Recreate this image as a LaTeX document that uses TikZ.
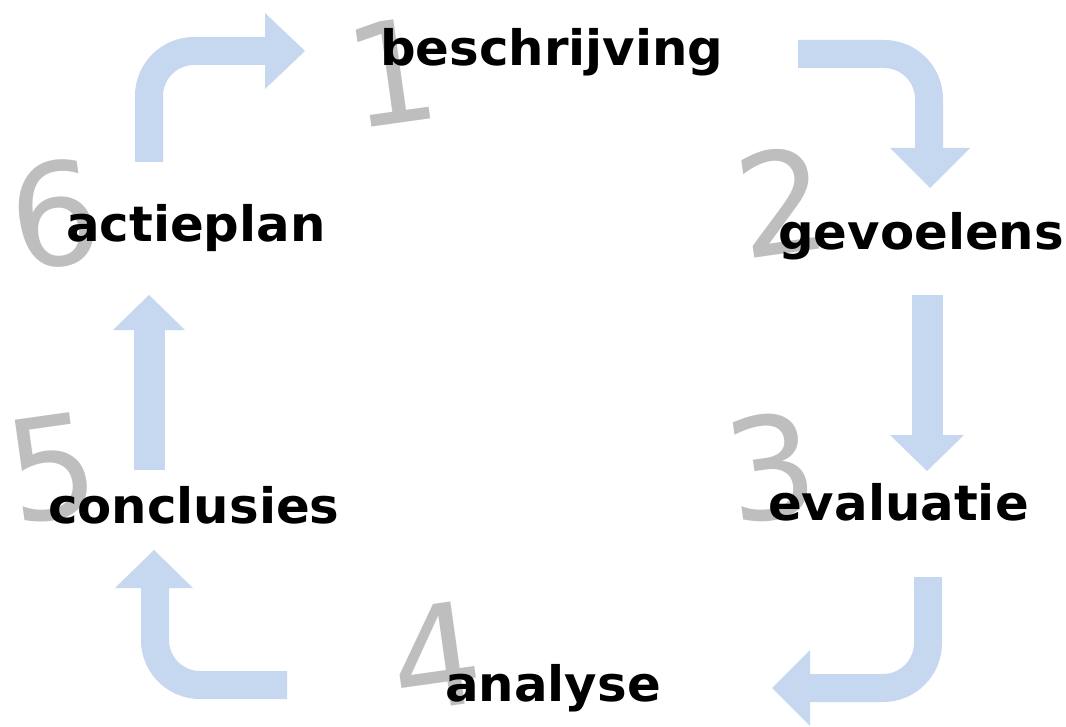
\documentclass[tikz,border=0pt]{standalone}
\usepackage{fontspec}
\setmainfont{DejaVu Sans}
\definecolor{arrowblue}{RGB}{197,216,240}
\definecolor{digitgrey}{RGB}{190,190,190}
\tikzset{
  label/.style={inner sep=0pt, anchor=base west, font=\fontsize{49}{49}\selectfont\bfseries, text=black, xscale=1.02},
  digit/.style={inner sep=0pt, font=\fontsize{142}{142}\selectfont, text=digitgrey, rotate=8},
  shaft/.style={draw=arrowblue, line width=28bp, rounded corners=45bp},
  head/.style={fill=arrowblue, draw=none}
}
\begin{document}
\begin{tikzpicture}[x=1bp,y=-1bp]
\useasboundingbox (0,0) rectangle (1066,727);
\fill[white] (0,0) rectangle (1066,727);
% digits
\node[digit] (d1) at (392,72) {1};
\node[digit] (d2) at (782,201) {2};
\node[digit] (d3) at (771,467) {3};
\node[digit] (d4) at (436,656) {4};
\node[digit] (d5) at (52,468) {5};
\node[digit] (d6) at (55,214) {6};
% arrows
\draw[shaft] (149,162) -- (149,51) -- (266,51);
\fill[head] (265,13) -- (305,51) -- (265,89) -- cycle;
\draw[shaft] (798,54) -- (929,54) -- (929,149);
\fill[head] (890,148) -- (970,148) -- (930,188) -- cycle;
\draw[shaft, line width=31bp] (927,295) -- (927,436);
\fill[head] (890,435) -- (964,435) -- (927,471) -- cycle;
\draw[shaft] (928,577) -- (928,688) -- (809,688);
\fill[head] (810,650) -- (810,726) -- (772,688) -- cycle;
\draw[shaft] (287,685) -- (155,685) -- (155,587);
\fill[head] (115,588) -- (193,588) -- (154,550) -- cycle;
\draw[shaft, line width=31bp] (149,470) -- (149,329);
\fill[head] (113,330) -- (185,330) -- (149,295) -- cycle;
% labels
\node[label] (beschrijving) at (380,66) {beschrijving};
\node[label] (gevoelens) at (778,249) {gevoelens};
\node[label] (evaluatie) at (768,520) {evaluatie};
\node[label] (analyse) at (445,701) {analyse};
\node[label] (conclusies) at (48,523) {conclusies};
\node[label] (actieplan) at (66,241) {actieplan};
\end{tikzpicture}
\end{document}
